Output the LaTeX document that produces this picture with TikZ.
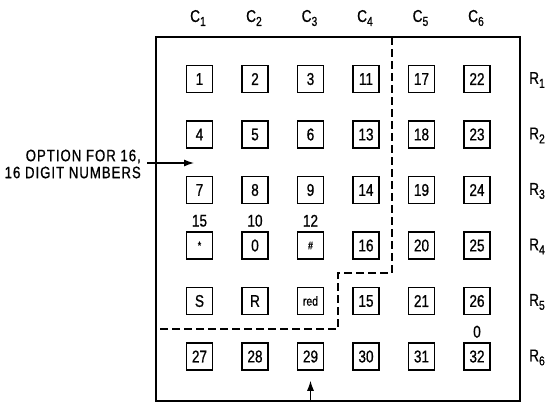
\documentclass[tikz,border=0pt]{standalone}
\usepackage{fontspec}
\setmainfont{Liberation Sans}[FakeStretch=0.8, FakeBold=0.8]
\usetikzlibrary{arrows.meta}

\newcommand{\lsub}[1]{\raisebox{-0.45ex}{\fontsize{13}{13}\selectfont #1}}

\begin{document}
\begin{tikzpicture}[x=1pt, y=-1pt,
    key/.style={draw, line width=1.5pt, minimum width=26pt, minimum height=27pt, inner sep=0pt, font=\fontsize{17}{17}\selectfont},
    lbl/.style={font=\fontsize{17}{17}\selectfont},
    arrow/.style={-{Latex[length=10pt, width=7pt]}, line width=1.2pt}]
        \useasboundingbox (0,0) rectangle (548,402);

        % Board
        \draw (338,219) node[draw, line width=2pt, minimum width=364pt, minimum height=364pt, inner sep=0pt] (board) {};

        % Column labels
        \draw (198,18) node[lbl] (c1) {C\lsub{1}}  (254,18) node[lbl] (c2) {C\lsub{2}}
              (309.5,18) node[lbl] (c3) {C\lsub{3}}  (365,18) node[lbl] (c4) {C\lsub{4}}
              (420.5,18) node[lbl] (c5) {C\lsub{5}}  (476,18) node[lbl] (c6) {C\lsub{6}};

        % Row labels
        \draw (529,80) node[lbl, anchor=west, inner sep=0pt] (r1) {R\lsub{1}}    (529,135.5) node[lbl, anchor=west, inner sep=0pt] (r2) {R\lsub{2}}
              (529,191) node[lbl, anchor=west, inner sep=0pt] (r3) {R\lsub{3}}   (529,246.5) node[lbl, anchor=west, inner sep=0pt] (r4) {R\lsub{4}}
              (529,302) node[lbl, anchor=west, inner sep=0pt] (r5) {R\lsub{5}}   (529,357.5) node[lbl, anchor=west, inner sep=0pt] (r6) {R\lsub{6}};

        % Keys
        \draw (199.5,79) node[key] (k1) {1}  (255,79) node[key] (k2) {2}  (310.5,79) node[key] (k3) {3}
              (366,79) node[key] (k11) {11}  (421.5,79) node[key] (k17) {17}  (477,79) node[key] (k22) {22};
        \draw (199.5,134.5) node[key] (k4) {4}  (255,134.5) node[key] (k5) {5}  (310.5,134.5) node[key] (k6) {6}
              (366,134.5) node[key] (k13) {13}  (421.5,134.5) node[key] (k18) {18}  (477,134.5) node[key] (k23) {23};
        \draw (199.5,190) node[key] (k7) {7}  (255,190) node[key] (k8) {8}  (310.5,190) node[key] (k9) {9}
              (366,190) node[key] (k14) {14}  (421.5,190) node[key] (k19) {19}  (477,190) node[key] (k24) {24};
        \draw (199.5,245.5) node[key, font=\fontsize{11}{11}\selectfont] (kstar) {*}  (255,245.5) node[key] (k0) {0}
              (310.5,245.5) node[key, font=\fontsize{11}{11}\selectfont] (khash) {\#}
              (366,245.5) node[key] (k16) {16}  (421.5,245.5) node[key] (k20) {20}  (477,245.5) node[key] (k25) {25};
        \draw (199.5,301) node[key] (ks) {S}  (255,301) node[key] (kr) {R}
              (310.5,301) node[key, font=\fontsize{13}{13}\selectfont] (kred) {red}
              (366,301) node[key] (k15) {15}  (421.5,301) node[key] (k21) {21}  (477,301) node[key] (k26) {26};
        \draw (199.5,356.5) node[key] (k27) {27}  (255,356.5) node[key] (k28) {28}  (310.5,356.5) node[key] (k29) {29}
              (366,356.5) node[key] (k30) {30}  (421.5,356.5) node[key] (k31) {31}  (477,356.5) node[key] (k32) {32};

        % Codes above keys
        \draw (kstar.north) node[lbl, above=1pt] (n15) {15};
        \draw (k0.north) node[lbl, above=1pt] (n10) {10};
        \draw (khash.north) node[lbl, above=1pt] (n12) {12};
        \draw (k32.north) node[lbl, above=1pt] (n0) {0};

        % Split line
        \draw[dashed, dash pattern=on 8pt off 4pt, line width=1.4pt] (392,37) -- (392,273) -- (338,273) -- (338,329) -- (156,329);

        % Option
        \draw (141,164) node[lbl, anchor=east, align=right, inner sep=0pt, font=\addfontfeatures{LetterSpace=6}\fontsize{16.5}{17}\selectfont] (opt) {OPTION FOR 16,\\16 DIGIT NUMBERS};
        \coordinate (optend) at (194,163);
        \draw[arrow] ([xshift=6pt, yshift=1pt]opt.east) -- (optend);

        % Bottom arrow
        \draw[arrow] (board.south -| k29) -- ([yshift=-10pt]k29.south);
    \end{tikzpicture}
\end{document}
